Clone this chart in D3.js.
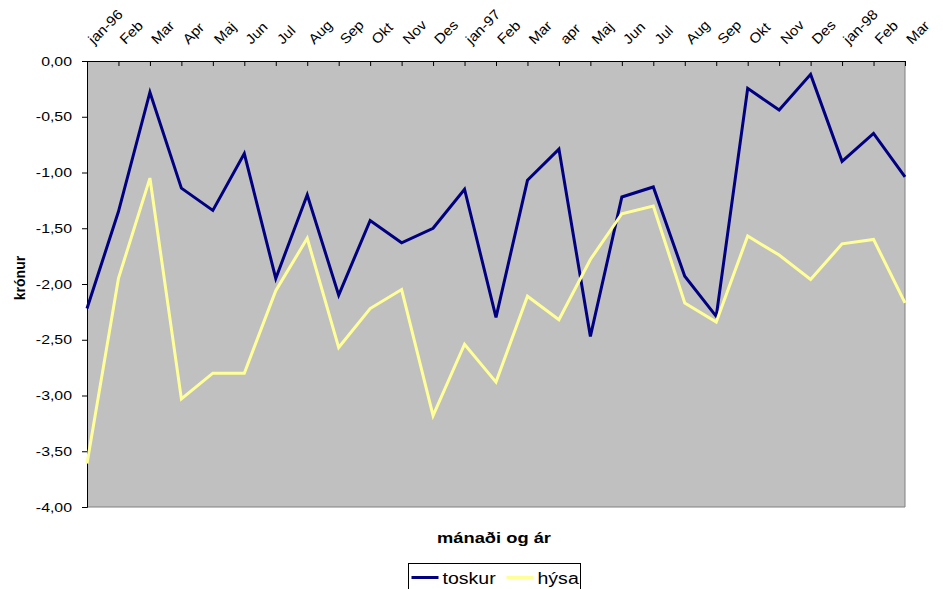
<!DOCTYPE html>
<html>
<head>
<meta charset="utf-8">
<script src="https://cdn.jsdelivr.net/npm/d3@7"></script>
<style>
  body { margin: 0; background: #fff; }
  text { font-family: "Liberation Sans", Arial, sans-serif; fill: #000; }
</style>
</head>
<body>
<script>
(() => {
    var months = ["jan-96", "Feb", "Mar", "Apr", "Maj", "Jun", "Jul", "Aug", "Sep", "Okt", "Nov", "Des",
        "jan-97", "Feb", "Mar", "apr", "Maj", "Jun", "Jul", "Aug", "Sep", "Okt", "Nov", "Des",
        "jan-98", "Feb", "Mar"];

    var toskur = [-2.22, -1.35, -0.28, -1.14, -1.34, -0.83, -1.95, -1.20, -2.10, -1.43, -1.63, -1.50,
        -1.15, -2.30, -1.07, -0.79, -2.47, -1.22, -1.13, -1.93, -2.29, -0.245, -0.44, -0.12,
        -0.90, -0.65, -1.04];

    var hysa = [-3.61, -1.95, -1.05, -3.03, -2.80, -2.80, -2.06, -1.59, -2.57, -2.22, -2.05, -3.18,
        -2.54, -2.88, -2.11, -2.32, -1.78, -1.37, -1.30, -2.17, -2.34, -1.57, -1.74, -1.96,
        -1.64, -1.60, -2.17];

    var yTicks = [0, -0.5, -1, -1.5, -2, -2.5, -3, -3.5, -4];

    var series = [
        { name: "toskur", values: toskur, color: "#000080" },
        { name: "hýsa", values: hysa, color: "#FFFF99" }
    ];

    var W = 943, H = 589;
    var margin = { top: 61, left: 87, right: 38, bottom: 82 };
    var w = W - margin.left - margin.right,
        h = H - margin.top - margin.bottom;

    // the picture's text is a bit wider than the font draws it
    function widen(sel, k) {
        sel.each(function () {
            var len = this.getComputedTextLength();
            d3.select(this).attr("textLength", len * k).attr("lengthAdjust", "spacingAndGlyphs");
        });
    }

    var svg = d3.select("body").append("svg").attr("width", W).attr("height", H);
    var g = svg.append("g").attr("transform", "translate(" + [margin.left, margin.top] + ")");

    var x = d3.scalePoint().domain(d3.range(months.length)).range([0, w]);
    var y = d3.scaleLinear().domain([-4, 0]).range([h, 0]);

    // plot area
    g.append("rect").attr("width", w).attr("height", h).attr("fill", "#C0C0C0");
    g.append("line").attr("x1", w).attr("x2", w).attr("y1", 0).attr("y2", h).attr("stroke", "#808080");
    g.append("line").attr("x1", 0).attr("x2", w).attr("y1", h).attr("y2", h).attr("stroke", "#808080");

    // y axis
    var yAxis = g.append("g").call(d3.axisLeft(y).tickValues(yTicks).tickSize(5).tickPadding(10)
        .tickFormat(d => d3.format(".2f")(d).replace(".", ",").replace("−", "-")));
    yAxis.select(".domain").attr("stroke", "#000");
    yAxis.selectAll("text").attr("font-size", 13).attr("fill", "#000")
        .attr("font-family", "'Liberation Sans', Arial, sans-serif")
        .call(widen, 1.22);

    // x axis on top, ticks pointing inwards
    var xAxis = g.append("g").call(d3.axisTop(x).tickSizeInner(-5).tickSizeOuter(0).tickFormat(""));
    xAxis.select(".domain").attr("stroke", "#000");

    g.append("g").selectAll("text").data(months).enter().append("text")
        .attr("transform", (d, i) => "translate(" + [x(i) + 7, -16] + ") rotate(-45)")
        .attr("font-size", 14)
        .text(d => d)
        .call(widen, 1.08);

    // lines
    var line = d3.line().x((d, i) => x(i)).y(d => y(d));
    g.selectAll(".series").data(series).enter().append("path")
        .attr("fill", "none")
        .attr("stroke", d => d.color)
        .attr("stroke-width", 3)
        .attr("stroke-linejoin", "miter")
        .attr("d", d => line(d.values));

    // axis titles
    svg.append("text").attr("x", 494).attr("y", 543).attr("text-anchor", "middle")
        .attr("font-size", 15).attr("font-weight", "bold").text("mánaði og ár")
        .call(widen, 1.22);
    svg.append("text").attr("transform", "translate(25,278) rotate(-90)").attr("text-anchor", "middle")
        .attr("font-size", 14).attr("font-weight", "bold").text("krónur");

    // legend
    var lg = svg.append("g").attr("transform", "translate(408.5,563.5)");
    lg.append("rect").attr("width", 172).attr("height", 30).attr("fill", "#fff").attr("stroke", "#000");
    var items = lg.selectAll(".item").data(series).enter().append("g")
        .attr("transform", (d, i) => "translate(" + [3 + i * 95, 14] + ")");
    items.append("line").attr("x1", 0).attr("x2", 27).attr("stroke", d => d.color).attr("stroke-width", 3);
    items.append("text").attr("x", 31).attr("y", 6).attr("font-size", 16).text(d => d.name)
        .call(widen, 1.22);
})()
</script>
</body>
</html>
